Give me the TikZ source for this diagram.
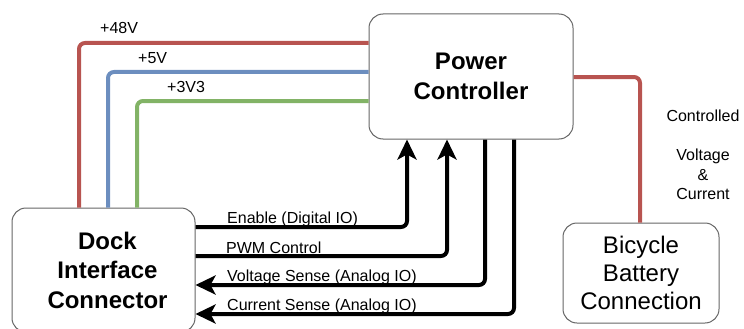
\documentclass[tikz,border=0pt]{standalone}
\usepackage{fontspec}
\setmainfont{Liberation Sans}
\usetikzlibrary{arrows.meta}
\definecolor{wire48}{HTML}{B85450}
\definecolor{wire5}{HTML}{6C8EBF}
\definecolor{wire33}{HTML}{82B366}
\definecolor{boxline}{HTML}{666666}

\begin{document}
\begin{tikzpicture}[x=1pt,y=-1pt,
  block/.style={draw=boxline, fill=white, line width=1pt, rounded corners=14pt, inner sep=0pt, align=center},
  title/.style={font=\bfseries\fontsize{24}{29.5}\selectfont},
  plaintitle/.style={font=\fontsize{24}{28}\selectfont},
  rail/.style={line width=4pt, rounded corners=6pt},
  sig/.style={line width=4pt, rounded corners=6pt, draw=black},
  tip/.style={-{Stealth[length=20pt,width=19pt,inset=5pt]}},
  lbl/.style={font=\fontsize{16}{19.5}\selectfont, inner sep=0pt},
]
\useasboundingbox (0,0) rectangle (744,329);

% blocks
\node[block,title,minimum width=204pt,minimum height=125pt] (pc) at (471,76.5) {Power\\Controller};
\node[block,minimum width=183pt,minimum height=124pt,
  label={[title,align=center,inner sep=0pt,xshift=4pt]center:Dock\\Interface\\Connector}] (dock) at (103.5,270) {};
\node[block,plaintitle,minimum width=156pt,minimum height=100pt] (bat) at (641,273) {Bicycle\\Battery\\Connection};

% supply rails
\coordinate (r48) at (79,43);
\coordinate (r5) at (108,72);
\coordinate (r33) at (137,101);
\coordinate (ctl) at (640,77);
\draw[rail,wire48] (dock.north -| r48) |- (pc.west |- r48);
\draw[rail,wire5] (dock.north -| r5) |- (pc.west |- r5);
\draw[rail,wire33] (dock.north -| r33) |- (pc.west |- r33);
\draw[rail,wire48] (pc.east |- ctl) -| (bat.north -| ctl);

% signal lines
\coordinate (en) at (407,227);
\coordinate (pwm) at (447,256);
\coordinate (vs) at (485,285);
\coordinate (cs) at (514,314);
\draw[sig,tip] (dock.east |- en) -| (pc.south -| en);
\draw[sig,tip] (dock.east |- pwm) -| (pc.south -| pwm);
\draw[sig,tip] (pc.south -| vs) |- (dock.east |- vs);
\draw[sig,tip] (pc.south -| cs) |- (dock.east |- cs);

% labels
\node[lbl,anchor=base west] (l48) at (100,33.7) {+48V};
\node[lbl,anchor=base west] (l5) at (138,63.3) {+5V};
\node[lbl,anchor=base west] (l33) at (167,92.7) {+3V3};
\node[lbl,anchor=base west] (len) at (227,223.3) {Enable (Digital IO)};
\node[lbl,anchor=base west] (lpwm) at (226,253.3) {PWM Control};
\node[lbl,anchor=base west] (lvs) at (227,281.8) {Voltage Sense (Analog IO)};
\node[lbl,anchor=base west] (lcs) at (227,310.8) {Current Sense (Analog IO)};
\node[lbl,align=center] (lctl) at (703,155) {Controlled\\[19.5pt]Voltage\\\&\\Current};
\end{tikzpicture}
\end{document}
